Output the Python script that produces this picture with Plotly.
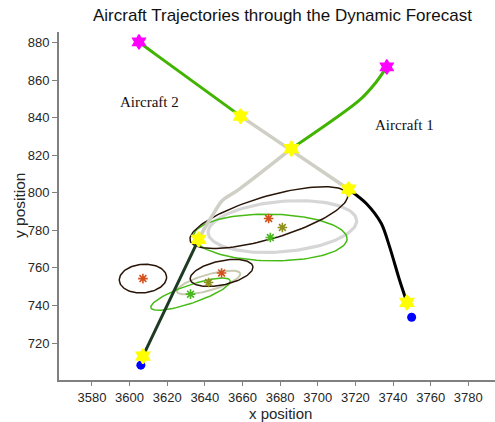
import numpy as np
import plotly.graph_objects as go

# ---- data ----
# Aircraft 1 trajectory segments (x, y)
ac1_green_x = [3736.7, 3731.1, 3722.2, 3686.0]
ac1_green_y = [867.0, 859.0, 849.3, 823.5]
ac1_gray_x = [3686.0, 3657.6, 3649.4, 3644.1, 3639.9, 3636.7]
ac1_gray_y = [823.5, 801.4, 796.0, 788.0, 781.1, 775.2]
ac1_dark_x = [3636.7, 3607.1]
ac1_dark_y = [775.2, 713.0]

# Aircraft 2 trajectory segments
ac2_green_x = [3605.0, 3613.3, 3659.0]
ac2_green_y = [880.3, 874.1, 840.8]
ac2_gray_x = [3659.0, 3716.4]
ac2_gray_y = [840.8, 801.9]
ac2_black_x = [3716.4, 3725.8, 3733.8, 3738.2, 3743.5, 3747.4]
ac2_black_y = [801.9, 794.3, 783.6, 771.2, 753.4, 741.6]

start_x = [3736.7, 3605.0]
start_y = [867.0, 880.3]
waypt_x = [3686.0, 3636.7, 3607.1, 3659.0, 3716.4, 3747.4]
waypt_y = [823.5, 775.2, 713.0, 840.8, 801.9, 741.6]
true_x = [3606.0, 3749.9]
true_y = [708.2, 733.7]

# forecast means (stars) and their uncertainty ellipses
# columns: cx, cy, semi-major, semi-minor, angle(deg)
ell_black = [[3674.0, 786.8, 43.6, 11.3, 16.5],
             [3607.1, 754.3, 12.6, 7.6, 5.0],
             [3648.9, 757.3, 17.0, 6.4, 12.0]]
ell_gray = [[3681.2, 782.0, 39.6, 13.4, 5.0]]
ell_beige = [[3642.0, 752.2, 17.5, 4.25, 16.0]]
ell_green = [[3674.8, 776.2, 40.8, 12.4, -1.0],
             [3632.4, 746.0, 22.3, 4.8, 19.0]]

star_orange_x = [3673.9, 3607.1, 3648.9]
star_orange_y = [786.3, 754.3, 757.3]
star_olive_x = [3681.2, 3642.0]
star_olive_y = [781.5, 752.2]
star_green_x = [3674.8, 3632.4]
star_green_y = [776.2, 746.0]

labels = ["Aircraft 1", "Aircraft 2"]
label_x = [3746.2, 3610.5]
label_y = [836.0, 848.4]

xticks = list(range(3580, 3781, 20))
yticks = list(range(720, 881, 20))

fig = go.Figure()


def ellipse(cx, cy, a, b, ang):
    t = np.linspace(0, 2 * np.pi, 120)
    th = np.deg2rad(ang)
    x = cx + a * np.cos(th) * np.cos(t) - b * np.sin(th) * np.sin(t)
    y = cy + a * np.sin(th) * np.cos(t) + b * np.cos(th) * np.sin(t)
    return x, y


for e in ell_gray:
    x, y = ellipse(*e)
    fig.add_trace(go.Scatter(x=x, y=y, mode="lines", line=dict(color="#d6d6d6", width=3.2)))
for e in ell_beige:
    x, y = ellipse(*e)
    fig.add_trace(go.Scatter(x=x, y=y, mode="lines", line=dict(color="#c9c9b2", width=2)))
for e in ell_green:
    x, y = ellipse(*e)
    fig.add_trace(go.Scatter(x=x, y=y, mode="lines", line=dict(color="#45bb14", width=1.5)))
for e in ell_black:
    x, y = ellipse(*e)
    fig.add_trace(go.Scatter(x=x, y=y, mode="lines", line=dict(color="#2a1608", width=1.5)))

# trajectories
sp = dict(shape="spline", smoothing=0.8)
fig.add_trace(go.Scatter(x=ac1_gray_x, y=ac1_gray_y, mode="lines", line=dict(color="#cfcfc5", width=3.5, **sp)))
fig.add_trace(go.Scatter(x=ac2_gray_x, y=ac2_gray_y, mode="lines", line=dict(color="#cfcfc5", width=3.5)))
fig.add_trace(go.Scatter(x=ac1_green_x, y=ac1_green_y, mode="lines", line=dict(color="#40b400", width=3, **sp)))
fig.add_trace(go.Scatter(x=ac2_green_x, y=ac2_green_y, mode="lines", line=dict(color="#40b400", width=3, **sp)))
fig.add_trace(go.Scatter(x=ac1_dark_x, y=ac1_dark_y, mode="lines", line=dict(color="#1d3a22", width=3)))
fig.add_trace(go.Scatter(x=ac2_black_x, y=ac2_black_y, mode="lines", line=dict(color="#000000", width=3, **sp)))

# forecast stars
for sx, sy, col in [(star_orange_x, star_orange_y, "#d4501a"),
                    (star_olive_x, star_olive_y, "#8f8f1c"),
                    (star_green_x, star_green_y, "#48b81e")]:
    fig.add_trace(go.Scatter(x=sx, y=sy, mode="markers",
                             marker=dict(symbol="asterisk-open", size=8, color=col,
                                         line=dict(color=col, width=1.6))))

# markers
fig.add_trace(go.Scatter(x=true_x, y=true_y, mode="markers",
                         marker=dict(symbol="circle", size=9, color="#0000ff", line=dict(width=0))))
fig.add_trace(go.Scatter(x=waypt_x, y=waypt_y, mode="markers",
                         marker=dict(symbol="hexagram", size=11, color="#ffff00", line=dict(color="#ffff00", width=2))))
fig.add_trace(go.Scatter(x=start_x, y=start_y, mode="markers",
                         marker=dict(symbol="hexagram", size=11, color="#ff00ff", line=dict(color="#ff00ff", width=1.5))))

for t, lx, ly in zip(labels, label_x, label_y):
    fig.add_annotation(x=lx, y=ly, text=t, showarrow=False, xanchor="center", yanchor="middle",
                       font=dict(family="Liberation Serif, Times New Roman, serif", size=15, color="#111111"))

axis_font = dict(family="Liberation Sans, Arial, Helvetica, sans-serif", size=13, color="#262626")

fig.update_layout(
    width=495, height=422,
    margin=dict(l=59, r=0, t=32, b=42),
    paper_bgcolor="white", plot_bgcolor="white",
    showlegend=False,
    font=axis_font,
    annotations=list(fig.layout.annotations) + [
        dict(text="Aircraft Trajectories through the Dynamic Forecast", xref="paper", yref="paper",
             x=(282.5 - 59) / 436, y=1, yshift=17, xanchor="center", yanchor="middle", showarrow=False,
             font=dict(family="Liberation Sans, Arial, sans-serif", size=17, color="#111111"),
             ),
        dict(text="x position", xref="paper", yref="paper", x=(280 - 59) / 436, y=0, yshift=-33,
             xanchor="center", yanchor="middle", showarrow=False,
             font=dict(family="Liberation Sans, Arial, sans-serif", size=15, color="#262626")),
        dict(text="y position", xref="paper", yref="paper", x=0, xshift=-40, y=0.5, textangle=-90,
             xanchor="center", yanchor="middle", showarrow=False,
             font=dict(family="Liberation Sans, Arial, sans-serif", size=15.5, color="#262626")),
    ],
)
fig.update_xaxes(range=[3562.5, 3794.2], tickvals=xticks, ticks="outside", ticklen=4, tickwidth=1,
                 tickcolor="#808080", showline=True, linecolor="#808080", linewidth=2,
                 showgrid=False, zeroline=False, tickfont=axis_font)
fig.update_yaxes(range=[700.3, 885.6], tickvals=yticks, ticks="outside", ticklen=5, tickwidth=1,
                 tickcolor="#808080", showline=True, linecolor="#808080", linewidth=2,
                 showgrid=False, zeroline=False, tickfont=axis_font)

fig.write_html("out.html")
